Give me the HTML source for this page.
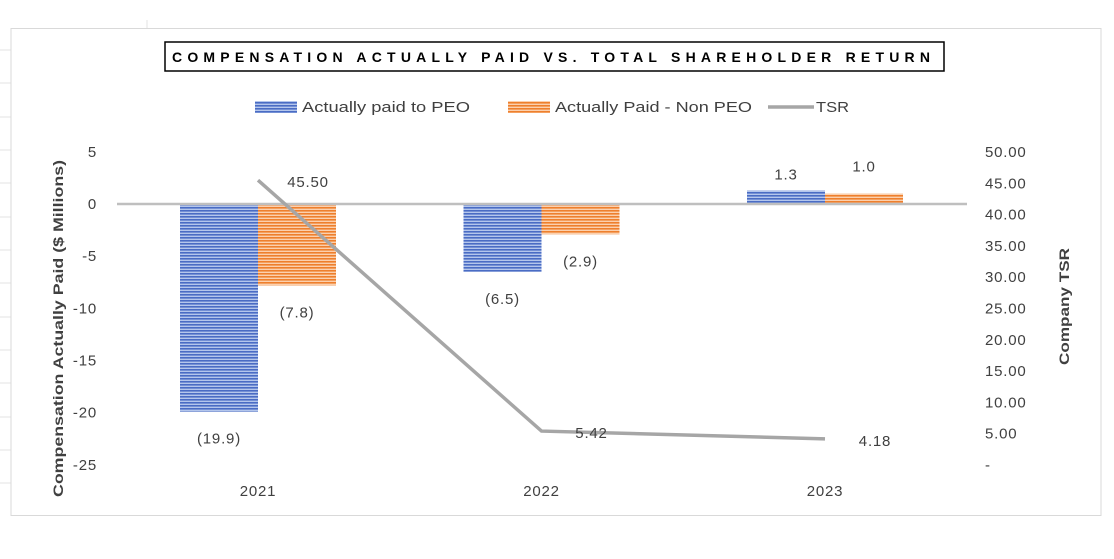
<!DOCTYPE html>
<html><head><meta charset="utf-8"><style>
body{margin:0;background:#fff;font-family:"Liberation Sans",sans-serif}
svg text{font-family:"Liberation Sans",sans-serif;fill:#404040}
</style></head><body>
<svg width="1114" height="554">
<defs>
<pattern id="pb" width="4" height="3" patternUnits="userSpaceOnUse"><rect width="4" height="3" fill="#b4c6ec"/><rect width="4" height="1.6" fill="#4a6cc4"/></pattern>
<pattern id="po" width="4" height="3" patternUnits="userSpaceOnUse"><rect width="4" height="3" fill="#fbd0ae"/><rect width="4" height="1.6" fill="#ee7f2d"/></pattern>
</defs>
<g stroke="#e3e3e3">
<line x1="0" y1="50" x2="11" y2="50"/><line x1="0" y1="83" x2="11" y2="83"/><line x1="0" y1="117" x2="11" y2="117"/><line x1="0" y1="150" x2="11" y2="150"/><line x1="0" y1="183" x2="11" y2="183"/><line x1="0" y1="217" x2="11" y2="217"/><line x1="0" y1="250" x2="11" y2="250"/><line x1="0" y1="283" x2="11" y2="283"/><line x1="0" y1="317" x2="11" y2="317"/><line x1="0" y1="350" x2="11" y2="350"/><line x1="0" y1="383" x2="11" y2="383"/><line x1="0" y1="417" x2="11" y2="417"/><line x1="0" y1="450" x2="11" y2="450"/><line x1="0" y1="483" x2="11" y2="483"/><line x1="147" y1="20" x2="147" y2="28"/>
</g>
<rect x="11" y="28.5" width="1090" height="487" fill="#fff" stroke="#d9d9d9"/>
<rect x="165" y="42" width="779" height="29" fill="#fff" stroke="#000" stroke-width="1.5"/>
<text x="172" y="62" textLength="758" lengthAdjust="spacing" font-size="14" font-weight="bold" style="fill:#000">COMPENSATION ACTUALLY PAID VS. TOTAL SHAREHOLDER RETURN</text>
<g>
<rect x="255" y="101" width="42" height="12" fill="url(#pb)"/>
<text x="302" y="112" font-size="15" textLength="168" lengthAdjust="spacingAndGlyphs">Actually paid to PEO</text>
<rect x="508" y="101" width="42" height="12" fill="url(#po)"/>
<text x="555" y="112" font-size="15" textLength="197" lengthAdjust="spacingAndGlyphs">Actually Paid - Non PEO</text>
<line x1="768" y1="107" x2="814" y2="107" stroke="#a6a6a6" stroke-width="3.5"/>
<text x="816" y="112" font-size="15" textLength="33" lengthAdjust="spacingAndGlyphs">TSR</text>
</g>
<text transform="translate(63,497) rotate(-90)" font-size="14" font-weight="bold" textLength="337" lengthAdjust="spacingAndGlyphs">Compensation Actually Paid ($ Millions)</text>
<text transform="translate(1069,365) rotate(-90)" font-size="14" font-weight="bold" textLength="117" lengthAdjust="spacingAndGlyphs">Company TSR</text>
<g id="plot"></g>
</svg>
<script>
const categories=["2021","2022","2023"];
const peo=[-19.9,-6.5,1.3];
const nonPeo=[-7.8,-2.9,1.0];
const tsr=[45.50,5.42,4.18];
const leftTicks=[5,0,-5,-10,-15,-20,-25];
const rightTicks=[50,45,40,35,30,25,20,15,10,5,0];
const NS="http://www.w3.org/2000/svg";
const g=document.getElementById('plot');
const yL=v=>204-v*(313/30);
const yR=v=>465-v*(313/50);
const xC=i=>258+i*283.5;
const fmt=v=>v<0?"("+Math.abs(v).toFixed(1)+")":v.toFixed(1);
function mk(t,a,txt){const e=document.createElementNS(NS,t);for(const k in a)e.setAttribute(k,a[k]);if(txt!=null)e.textContent=txt;g.appendChild(e);return e;}
const F={'font-size':15,'letter-spacing':0.8};
leftTicks.forEach(v=>{const e=mk('text',Object.assign({x:97,y:yL(v)+5,'text-anchor':'end'},F),String(v));

});
rightTicks.forEach(v=>{const e=mk('text',Object.assign({x:985,y:yR(v)+5},F),v===0?"-":v.toFixed(2));

});
categories.forEach((c,i)=>{
const b1=mk('rect',{x:xC(i)-78,y:Math.min(yL(0),yL(peo[i])),width:78,height:Math.abs(yL(peo[i])-yL(0)),fill:'url(#pb)'});


const b2=mk('rect',{x:xC(i),y:Math.min(yL(0),yL(nonPeo[i])),width:78,height:Math.abs(yL(nonPeo[i])-yL(0)),fill:'url(#po)'});


const l1=mk('text',Object.assign({x:xC(i)-39,y:peo[i]<0?yL(peo[i])+32:yL(peo[i])-11,'text-anchor':'middle'},F),fmt(peo[i]));


const l2=mk('text',Object.assign({x:xC(i)+39,y:nonPeo[i]<0?yL(nonPeo[i])+32:yL(nonPeo[i])-22,'text-anchor':'middle'},F),fmt(nonPeo[i]));


const cl=mk('text',Object.assign({x:xC(i),y:496,'text-anchor':'middle'},F),c);


});
const zl=mk('line',{x1:117,x2:967,y1:yL(0),y2:yL(0),stroke:'#bfbfbf','stroke-width':2.5});


const pl=mk('polyline',{points:tsr.map((v,i)=>xC(i)+","+yR(v)).join(" "),fill:'none',stroke:'#a6a6a6','stroke-width':3.5});


tsr.forEach((v,i)=>{const t=mk('text',Object.assign({x:xC(i)+50,y:yR(v)+7,'text-anchor':'middle'},F),v.toFixed(2));

});
</script>
</body></html>
